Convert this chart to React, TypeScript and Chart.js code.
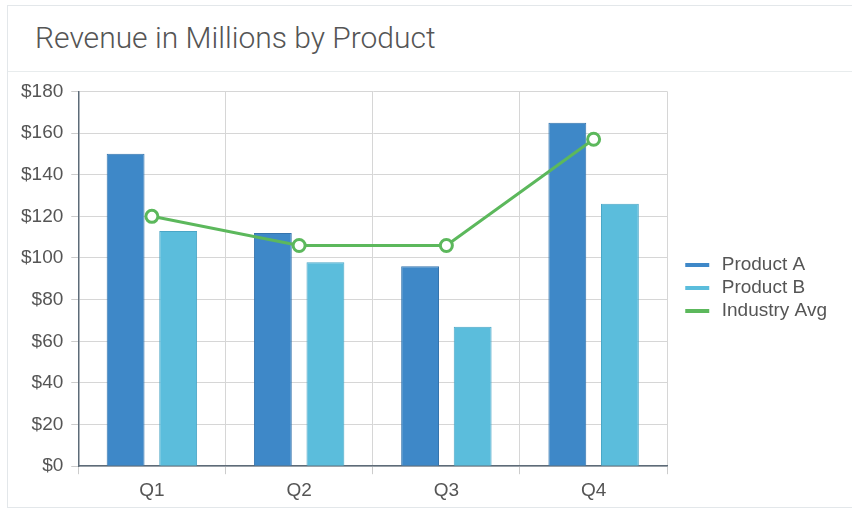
import React, { useEffect, useRef } from "react";
import { Chart, registerables } from "chart.js";

Chart.register(...registerables);

const categories = ["Q1", "Q2", "Q3", "Q4"];
const productA = [150, 112, 96, 165];
const productB = [113, 98, 67, 126];
const industryAvg = [120, 106, 106, 157];
const yTicks = [0, 20, 40, 60, 80, 100, 120, 140, 160, 180];

const FONT = "Arial, 'Liberation Sans', sans-serif";
const TEXT = "#555555";

function legendSwatch(color: string) {
  const c = document.createElement("canvas");
  c.width = 41;
  c.height = 4;
  const ctx = c.getContext("2d")!;
  ctx.fillStyle = color;
  ctx.fillRect(14, 0, 24, 4);
  return c;
}

export default function App() {
  const ref = useRef<HTMLCanvasElement | null>(null);

  useEffect(() => {
    if (!ref.current) return;
    const chart = new Chart(ref.current, {
      data: {
        labels: categories,
        datasets: [
          {
            type: "line",
            label: "Industry Avg",
            data: industryAvg,
            borderColor: "#5cb85c",
            backgroundColor: "#5cb85c",
            borderWidth: 3,
            pointRadius: 6,
            pointBorderWidth: 3,
            pointBackgroundColor: "#ffffff",
            pointBorderColor: "#5cb85c",
            tension: 0,
            order: 0,
          },
          {
            type: "bar",
            label: "Product A",
            data: productA,
            backgroundColor: "#3e88c8",
            borderColor: "#3574ad",
            borderWidth: 1,
            categoryPercentage: 0.714,
            barPercentage: 0.72,
            order: 1,
          },
          {
            type: "bar",
            label: "Product B",
            data: productB,
            backgroundColor: "#5bbddc",
            borderColor: "#4aa6c6",
            borderWidth: 1,
            categoryPercentage: 0.714,
            barPercentage: 0.72,
            order: 1,
          },
        ],
      } as any,
      options: {
        responsive: false,
        animation: false,
        layout: { padding: { left: 5, top: 19, right: 14, bottom: 1 } },
        plugins: {
          title: { display: false },
          tooltip: { enabled: false },
          legend: {
            position: "right",
            fullSize: false,
            title: {
              display: true,
              text: " ",
              padding: 0,
              font: { family: FONT, size: 18, lineHeight: 1 },
            },
            labels: {
              usePointStyle: true,
              pointStyleWidth: 41,
              boxHeight: 4,
              padding: 4,
              color: TEXT,
              font: { family: FONT, size: 19, lineHeight: 1 },
              sort: (a: any, b: any) => {
                const order = ["Product A", "Product B", "Industry Avg"];
                return order.indexOf(a.text) - order.indexOf(b.text);
              },
              generateLabels: (chart: any) => {
                const items = Chart.defaults.plugins.legend.labels.generateLabels(chart);
                return items.map((it: any) => {
                  const ds = chart.data.datasets[it.datasetIndex];
                  const color = ds.type === "line" ? ds.borderColor : ds.backgroundColor;
                  return {
                    ...it,
                    fillStyle: color,
                    strokeStyle: "rgba(0,0,0,0)",
                    lineWidth: 0,
                    pointStyle: legendSwatch(color),
                    rotation: 0,
                  };
                });
              },
            },
          },
        },
        scales: {
          x: {
            grid: {
              color: "#d6d6d6",
              lineWidth: 1,
              tickLength: 8,
              tickColor: "#cccccc",
              offset: true,
            },
            border: { color: "#5d6b78", width: 1.5 },
            ticks: {
              color: TEXT,
              font: { family: FONT, size: 19 },
              padding: 5,
            },
          },
          y: {
            min: 0,
            max: 180,
            afterBuildTicks: (axis: any) => {
              axis.ticks = yTicks.map((v) => ({ value: v }));
            },
            grid: {
              color: "#d6d6d6",
              lineWidth: 1,
              tickLength: 7,
              tickColor: "#cccccc",
            },
            border: { color: "#5d6b78", width: 1.5 },
            ticks: {
              color: TEXT,
              font: { family: FONT, size: 19 },
              padding: 8,
              callback: (v: any) => "$" + v,
            },
          },
        },
      } as any,
    });
    return () => chart.destroy();
  }, []);

  return (
    <div
      style={{
        position: "absolute",
        left: 7,
        top: 5,
        width: 850,
        height: 503,
        border: "1px solid #e3e7ea",
        borderRight: "none",
        boxSizing: "border-box",
        background: "#ffffff",
      }}
    >
      <div
        style={{
          position: "absolute",
          left: 27,
          top: 17,
          fontFamily: "Roboto, 'Open Sans', sans-serif",
          fontWeight: 300,
          fontSize: 30,
          lineHeight: "30px",
          color: "#555555",
          whiteSpace: "nowrap",
        }}
      >
        Revenue in Millions by Product
      </div>
      <div
        style={{
          position: "absolute",
          left: 0,
          top: 65,
          width: 849,
          height: 0,
          borderTop: "1px solid #e8eced",
        }}
      />
      <canvas
        ref={ref}
        width={843}
        height={436}
        style={{ position: "absolute", left: 0, top: 66, width: 843, height: 436 }}
      />
    </div>
  );
}
